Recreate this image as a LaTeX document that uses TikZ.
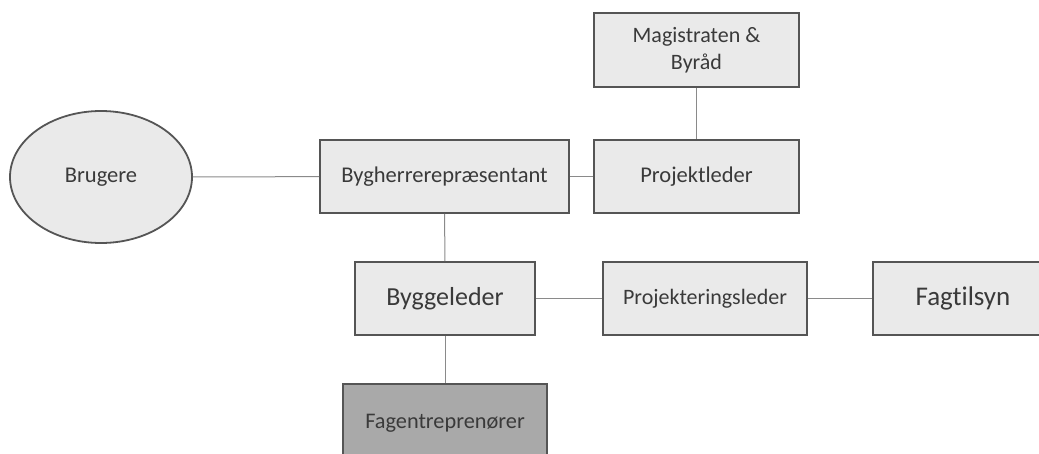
\documentclass[tikz,border=0pt]{standalone}
\usepackage{fontspec}
\setmainfont{Carlito}[Ligatures=NoCommon]
\usetikzlibrary{shapes.geometric}
\definecolor{boxfill}{HTML}{EAEAEA}
\definecolor{darkfill}{HTML}{A9A9A9}
\definecolor{boxline}{HTML}{555555}
\definecolor{conn}{HTML}{8A8A8A}
\definecolor{txt}{HTML}{3A3A3A}
\tikzset{
  orgbox/.style={draw=boxline, line width=1.8pt, fill=boxfill, rectangle, inner sep=0pt, text=txt, align=center},
  darkbox/.style={orgbox, fill=darkfill},
  userell/.style={draw=boxline, line width=1.8pt, fill=boxfill, ellipse, inner sep=0pt, text=txt},
  link/.style={draw=conn, line width=1pt}
}
\begin{document}
\begin{tikzpicture}[x=1pt,y=-1pt]
\useasboundingbox (0,0) rectangle (1039,453);
\clip (0,0) rectangle (1039,453);
\node[userell, minimum width=182pt, minimum height=132pt, font=\fontsize{22.5}{26}\selectfont] (bru) at (101,177) {Brugere};
\node[orgbox, minimum width=249pt, minimum height=73pt, font=\fontsize{22.5}{26}\selectfont] (byg) at (444.5,176.5) {Bygherrerepræsentant};
\node[orgbox, minimum width=205pt, minimum height=73pt, font=\fontsize{22.5}{26}\selectfont] (pro) at (696.5,176.5) {Projektleder};
\node[orgbox, minimum width=205pt, minimum height=74pt, font=\fontsize{22}{27}\selectfont] (mag) at (696.5,50) {Magistraten \&\\Byråd};
\node[orgbox, minimum width=180pt, minimum height=73pt, font=\fontsize{26}{30}\selectfont] (bl) at (445,298.5) {Byggeleder};
\node[orgbox, minimum width=204pt, minimum height=73pt, font=\fontsize{22}{26}\selectfont] (pl) at (705,298.5) {Projekteringsleder};
\node[orgbox, minimum width=180pt, minimum height=73pt, font=\fontsize{27}{31}\selectfont] (fag) at (963,298.5) {Fagtilsyn};
\node[darkbox, minimum width=204pt, minimum height=78pt, font=\fontsize{22.3}{26}\selectfont] (fe) at (445,423) {Fagentreprenører};
\draw[link] (bru) -- (byg);
\draw[link] (byg) -- (pro);
\draw[link] (mag) -- (pro);
\draw[link] (byg) -- (bl);
\draw[link] (bl) -- (pl);
\draw[link] (pl) -- (fag);
\draw[link] (bl) -- (fe);
\end{tikzpicture}
\end{document}
